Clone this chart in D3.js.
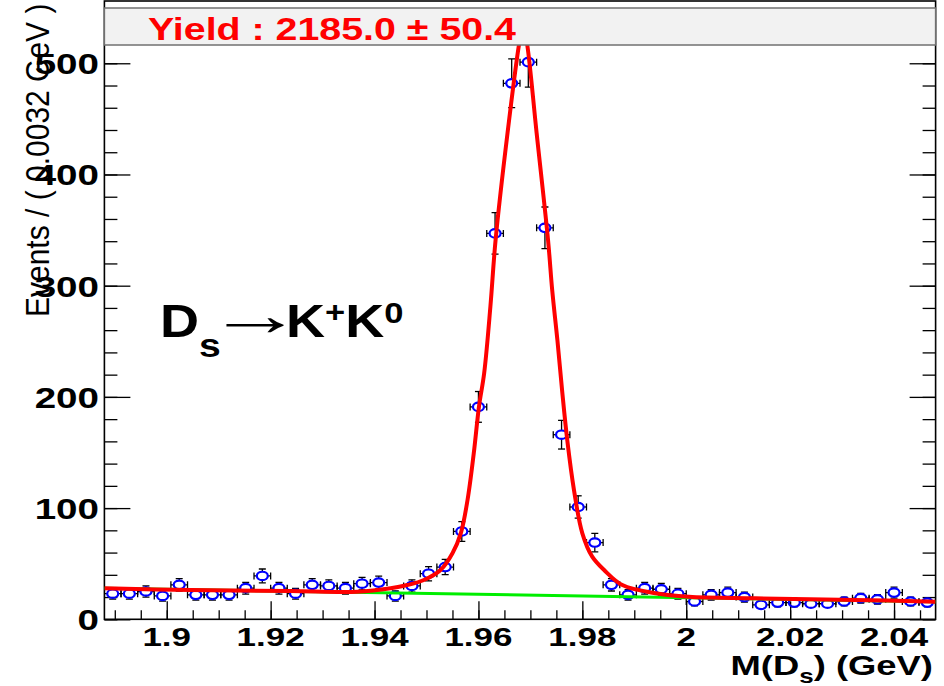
<!DOCTYPE html>
<html>
<head>
<meta charset="utf-8">
<script src="https://cdn.jsdelivr.net/npm/d3@7"></script>
<style>
  body { margin: 0; background: #fff; }
  svg { display: block; }
  text { font-family: "Liberation Sans", Arial, Helvetica, sans-serif; }
</style>
</head>
<body>
<div id="plot"></div>
<script>
// D_s -> K+ K0 mass spectrum, 50 bins of 0.0032 GeV from 1.888 GeV
var massLow = 1.888, massHigh = 2.048, binWidth = 0.0032;
var counts = [23, 23, 25, 21, 31, 22, 22, 22, 28, 39,
              28, 23, 31, 30, 28, 32, 33, 21, 30, 41,
              47, 79, 191, 347, 482, 501, 352, 166, 101, 69,
              31, 22, 28, 27, 23, 16, 22, 24, 20, 13,
              15, 15, 14, 14, 16, 19, 18, 24, 16, 15];

// total fit curve (signal + background), events per bin
var fitTotal = [
  [1.888, 27.9], [1.9046, 26.3], [1.9238, 25.4], [1.9367, 24.8], [1.9431, 27.9],
  [1.9463, 30.8], [1.9495, 35.3], [1.9527, 44.3], [1.9550, 59.4], [1.9566, 77.3],
  [1.9579, 107.3], [1.9591, 149.3], [1.9601, 191.2], [1.9611, 221.2], [1.9623, 281.1],
  [1.9633, 341.1], [1.9656, 437.3], [1.9678, 516.5], [1.9686, 536], [1.9694, 516.5],
  [1.9712, 437.3], [1.9734, 341.0], [1.9742, 296.0], [1.9752, 251.0], [1.9761, 206.0],
  [1.9771, 161.0], [1.9784, 116.0], [1.9800, 77.3], [1.9819, 56.3], [1.9842, 44.3],
  [1.9877, 30.8], [1.9941, 23.4], [2.0005, 20.3], [2.0133, 18.9], [2.0325, 17.4],
  [2.048, 15.8]
];
// background component
var fitBkg = [[1.888, 27.9], [2.048, 15.8]];

var yMajor = [0, 100, 200, 300, 400, 500];
var xMajor = [1.9, 1.92, 1.94, 1.96, 1.98, 2, 2.02, 2.04];
var yieldLabel = "Yield : 2185.0 \u00b1 50.4";

var W = 944, H = 686;
var frame = { left: 104.4, right: 935.6, top: 1, bottom: 619.3 };

var svg = d3.select("#plot").append("svg")
    .attr("width", W)
    .attr("height", H);

svg.append("rect").attr("width", W).attr("height", H).attr("fill", "#fff");

var x = d3.scaleLinear().domain([massLow, massHigh]).range([frame.left, frame.right]);
var y = d3.scaleLinear().domain([0, 556]).range([frame.bottom, frame.top]);

svg.append("defs").append("clipPath").attr("id", "frameClip")
  .append("rect")
    .attr("x", frame.left).attr("y", frame.top)
    .attr("width", frame.right - frame.left)
    .attr("height", frame.bottom - frame.top);

/* ticks: ROOT style, drawn inside the frame */
function noLabels(axis) { return axis.tickFormat("").tickSizeOuter(0); }

var yMinor = d3.range(0, 556, 20);
var xMinor = d3.range(1.89, 2.0481, 0.005);

svg.append("g").attr("transform", "translate(" + frame.left + ",0)")
    .call(noLabels(d3.axisLeft(y).tickValues(yMinor).tickSizeInner(-13)));
svg.append("g").attr("transform", "translate(" + frame.left + ",0)")
    .call(noLabels(d3.axisLeft(y).tickValues(yMajor).tickSizeInner(-26)));
svg.append("g").attr("transform", "translate(" + frame.right + ",0)")
    .call(noLabels(d3.axisRight(y).tickValues(yMinor).tickSizeInner(-13)));
svg.append("g").attr("transform", "translate(" + frame.right + ",0)")
    .call(noLabels(d3.axisRight(y).tickValues(yMajor).tickSizeInner(-26)));
svg.append("g").attr("transform", "translate(0," + frame.bottom + ")")
    .call(noLabels(d3.axisBottom(x).tickValues(xMinor).tickSizeInner(-9)));
svg.append("g").attr("transform", "translate(0," + frame.bottom + ")")
    .call(noLabels(d3.axisBottom(x).tickValues(xMajor).tickSizeInner(-18)));

svg.selectAll(".domain").remove();
svg.selectAll(".tick line").attr("stroke", "#000").attr("stroke-width", 1.3);

// frame
svg.append("rect")
    .attr("x", frame.left).attr("y", frame.top)
    .attr("width", frame.right - frame.left)
    .attr("height", frame.bottom - frame.top)
    .attr("fill", "none")
    .attr("stroke", "#000")
    .attr("stroke-width", 1.6);

/* tick labels, wide bold face */
svg.append("g").selectAll("text")
  .data(yMajor)
  .enter().append("text")
    .attr("transform", function (d) { return "translate(99," + (y(d) + 11) + ") scale(1.33,1)"; })
    .attr("text-anchor", "end")
    .style("font-size", "29px")
    .style("font-weight", "bold")
    .text(function (d) { return d; });

svg.append("g").selectAll("text")
  .data(xMajor)
  .enter().append("text")
    .attr("transform", function (d) { return "translate(" + x(d) + ",646) scale(1.4,1)"; })
    .attr("text-anchor", "middle")
    .style("font-size", "25px")
    .style("font-weight", "bold")
    .text(function (d) { return d; });

/* data points with errors */
var points = counts.map(function (c, i) {
    return { m: massLow + (i + 0.5) * binWidth, n: c, err: Math.sqrt(c) };
});
var rx = 5.5, ry = 4.2, cap = 3.5;

var pts = svg.append("g").attr("clip-path", "url(#frameClip)")
    .selectAll("g").data(points).enter().append("g")
    .attr("transform", function (d) { return "translate(" + x(d.m) + "," + y(d.n) + ")"; });

pts.each(function (d) {
    var g = d3.select(this);
    var up = y(d.n) - y(d.n + d.err);
    var dn = y(d.n - d.err) - y(d.n);
    var hw = x(d.m + binWidth / 2) - x(d.m);
    var segs = [];
    if (up > ry) segs.push([0, -ry, 0, -up], [-cap, -up, cap, -up]);
    if (dn > ry) segs.push([0, ry, 0, dn], [-cap, dn, cap, dn]);
    segs.push([-rx, 0, -hw, 0], [-hw, -cap, -hw, cap]);
    segs.push([rx, 0, hw, 0], [hw, -cap, hw, cap]);
    g.selectAll("line").data(segs).enter().append("line")
        .attr("x1", function (s) { return s[0]; })
        .attr("y1", function (s) { return s[1]; })
        .attr("x2", function (s) { return s[2]; })
        .attr("y2", function (s) { return s[3]; })
        .attr("stroke", "#000")
        .attr("stroke-width", 1.3);
    g.append("ellipse")
        .attr("rx", rx).attr("ry", ry)
        .attr("fill", "none")
        .attr("stroke", "#0000ff")
        .attr("stroke-width", 2.2);
});

/* fit curves */
var line = d3.line()
    .x(function (d) { return x(d[0]); })
    .y(function (d) { return y(d[1]); });

var curves = svg.append("g").attr("clip-path", "url(#frameClip)");
curves.append("path")
    .attr("d", line(fitBkg))
    .attr("fill", "none")
    .attr("stroke", "#00ee00")
    .attr("stroke-width", 3);
curves.append("path")
    .attr("d", line.curve(d3.curveCatmullRom.alpha(0.5))(fitTotal))
    .attr("fill", "none")
    .attr("stroke", "#ff0000")
    .attr("stroke-width", 4);

/* yield box */
svg.append("rect")
    .attr("x", frame.left).attr("y", 8)
    .attr("width", frame.right - frame.left)
    .attr("height", 37)
    .attr("fill", "#f2f2f2")
    .attr("stroke", "#707070")
    .attr("stroke-width", 1.5);

svg.append("text")
    .attr("transform", "translate(332,39.5) scale(1.23,1)")
    .attr("text-anchor", "middle")
    .style("font-size", "32px")
    .style("font-weight", "bold")
    .attr("fill", "#ff0000")
    .text(yieldLabel);

/* axis titles */
svg.append("text")
    .attr("transform", "translate(49,317) rotate(-90) scale(1,1.12)")
    .attr("text-anchor", "start")
    .style("font-size", "30px")
    .attr("fill", "#000")
    .text("Events / ( 0.0032 GeV )");

var xt = svg.append("text")
    .attr("transform", "translate(933,675) scale(1.3,1)")
    .attr("text-anchor", "end")
    .style("font-size", "28px")
    .style("font-weight", "bold");
xt.append("tspan").text("M(D");
xt.append("tspan").attr("dy", 8).style("font-size", "20px").text("s");
xt.append("tspan").attr("dy", -8).text(") (GeV)");

/* decay label */
var lab1 = svg.append("text")
    .attr("transform", "translate(160,337) scale(1.15,1)")
    .style("font-size", "47px")
    .style("font-weight", "bold");
lab1.append("tspan").text("D");
lab1.append("tspan").attr("dy", 20).style("font-size", "34px").text("s");

svg.append("text")
    .attr("transform", "translate(207,335) scale(1.61,1)")
    .style("font-size", "60px")
    .text("\u2192");

var lab2 = svg.append("text")
    .attr("transform", "translate(286,337) scale(1.15,1)")
    .style("font-size", "47px")
    .style("font-weight", "bold");
lab2.append("tspan").text("K");
lab2.append("tspan").attr("dy", -15).style("font-size", "30px").text("+");
lab2.append("tspan").attr("dy", 15).text("K");
lab2.append("tspan").attr("dy", -14).style("font-size", "30px").text("0");
</script>
</body>
</html>
